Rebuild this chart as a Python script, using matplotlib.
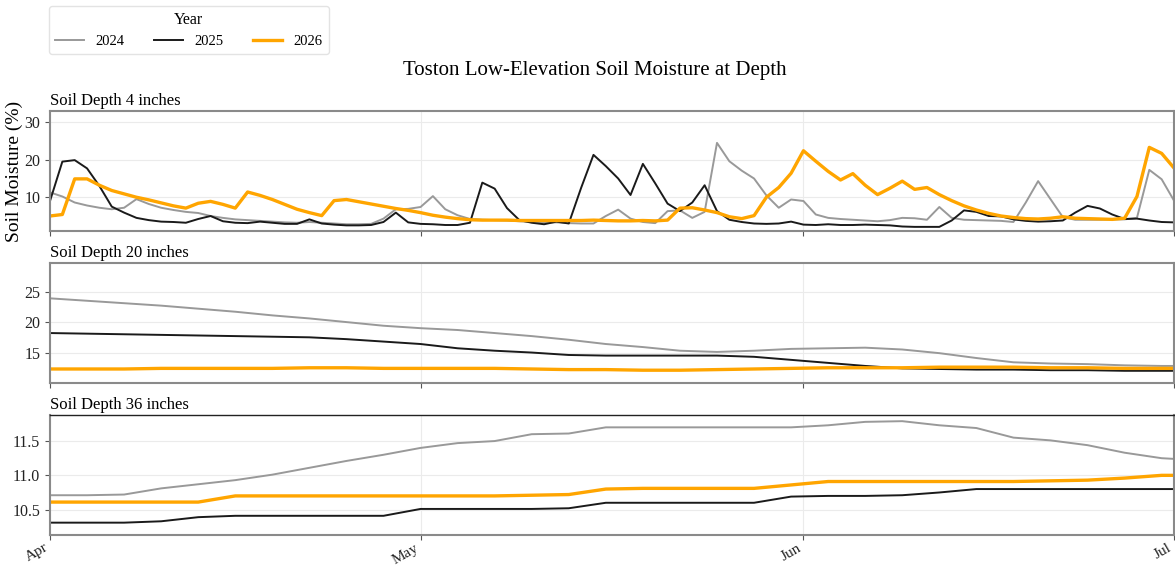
import pandas as pd
import matplotlib
matplotlib.use('Agg')
import matplotlib.pyplot as plt
import matplotlib.dates as mdates

# fuente tipo Times
plt.rcParams['font.family'] = ['Liberation Serif', 'DejaVu Serif']

# Fechas: diario para 4 pulgadas, cada 3 dias para las capas profundas
fechas_4in = pd.date_range('2026-04-01', '2026-07-01', freq='D')
dias_prof = list(range(0, 91, 3)) + [91]
fechas_prof = pd.Timestamp('2026-04-01') + pd.to_timedelta(dias_prof, unit='D')

anios = ['2024', '2025', '2026']
colores = ['#999999', '#1a1a1a', '#FFA500']
grosores = [1.4, 1.4, 2.4]

# Profundidad 4 pulgadas (diario, Apr 1 - Jul 1)
h4_2024 = [11.3, 10.2, 8.6, 7.8, 7.2, 6.8, 7.2, 9.5, 8.2, 7.2, 6.6, 6.1, 5.8, 5.0, 4.5, 4.1,
           3.9, 3.7, 3.5, 3.3, 3.2, 3.4, 3.2, 3.0, 2.8, 2.8, 2.9, 4.3, 6.8, 6.9, 7.4, 10.3,
           6.8, 5.2, 4.2, 4.0, 3.9, 3.8, 3.6, 3.4, 3.2, 3.3, 3.1, 3.0, 3.0, 5.0, 6.7, 4.3,
           3.4, 3.1, 6.3, 6.5, 4.5, 6.1, 24.5, 19.6, 17.1, 15.0, 10.5, 7.2, 9.4, 9.0, 5.4,
           4.5, 4.2, 4.0, 3.8, 3.6, 3.9, 4.5, 4.4, 4.0, 7.4, 4.5, 4.0, 3.9, 3.8, 3.7, 3.4,
           8.6, 14.3, 9.5, 4.7, 4.0, 4.0, 4.0, 4.1, 4.1, 4.5, 17.3, 14.8, 9.1]
h4_2025 = [9.0, 19.5, 19.9, 17.7, 13.0, 7.5, 5.9, 4.5, 3.9, 3.5, 3.4, 3.2, 4.2, 5.0, 3.6, 3.2,
           3.1, 3.5, 3.2, 2.9, 2.9, 4.1, 3.0, 2.7, 2.5, 2.5, 2.6, 3.4, 5.9, 3.3, 2.9, 2.8,
           2.6, 2.6, 3.2, 13.9, 12.3, 7.1, 3.9, 3.2, 2.8, 3.5, 3.0, 12.5, 21.3, 18.3, 15.0,
           10.6, 18.9, 13.7, 8.3, 6.3, 8.6, 13.2, 6.3, 4.0, 3.4, 3.0, 2.9, 3.0, 3.5, 2.7,
           2.6, 2.8, 2.6, 2.6, 2.7, 2.6, 2.5, 2.2, 2.1, 2.1, 2.1, 3.8, 6.5, 6.1, 5.0, 4.9,
           4.1, 3.7, 3.5, 3.6, 3.8, 5.9, 7.7, 7.0, 5.4, 4.2, 4.3, 3.8, 3.4, 3.3]
h4_2026 = [5.0, 5.4, 14.9, 14.9, 13.2, 11.8, 10.9, 10.0, 9.3, 8.5, 7.7, 7.1, 8.4, 8.9, 8.1,
           7.1, 11.4, 10.5, 9.4, 8.1, 6.8, 5.9, 5.1, 9.1, 9.4, 8.8, 8.2, 7.6, 7.0, 6.5, 5.9,
           5.2, 4.7, 4.3, 4.0, 3.9, 3.9, 3.9, 3.8, 3.8, 3.8, 3.8, 3.8, 3.8, 3.9, 3.8, 3.7,
           3.7, 3.8, 3.7, 3.9, 7.1, 7.2, 6.6, 5.9, 4.8, 4.3, 5.1, 10.0, 12.6, 16.4, 22.4,
           19.6, 16.9, 14.6, 16.3, 13.2, 10.7, 12.4, 14.3, 12.1, 12.6, 10.7, 9.1, 7.7, 6.6,
           5.7, 5.0, 4.6, 4.3, 4.2, 4.4, 4.8, 4.4, 4.3, 4.2, 4.1, 4.4, 10.2, 23.3, 21.7, 17.8]

# Profundidad 20 pulgadas (cada 3 dias)
h20_2024 = [23.9, 23.5, 23.1, 22.7, 22.2, 21.7, 21.1, 20.6, 20.0, 19.4, 19.0, 18.7, 18.2,
            17.7, 17.1, 16.4, 15.9, 15.3, 15.1, 15.3, 15.6, 15.7, 15.8, 15.5, 14.9, 14.1,
            13.4, 13.2, 13.1, 12.9, 12.8, 12.8]
h20_2025 = [18.2, 18.1, 18.0, 17.9, 17.8, 17.7, 17.6, 17.5, 17.2, 16.8, 16.4, 15.7, 15.3,
            15.0, 14.6, 14.5, 14.5, 14.5, 14.5, 14.3, 13.8, 13.3, 12.8, 12.4, 12.3, 12.2,
            12.2, 12.1, 12.1, 12.0, 12.0, 12.0]
h20_2026 = [12.3, 12.3, 12.3, 12.4, 12.4, 12.4, 12.4, 12.5, 12.5, 12.4, 12.4, 12.4, 12.4,
            12.3, 12.2, 12.2, 12.1, 12.1, 12.2, 12.3, 12.4, 12.5, 12.5, 12.5, 12.6, 12.6,
            12.6, 12.5, 12.5, 12.4, 12.4, 12.4]

# Profundidad 36 pulgadas (cada 3 dias)
h36_2024 = [10.71, 10.71, 10.72, 10.81, 10.87, 10.93, 11.01, 11.11, 11.21, 11.30, 11.40,
            11.47, 11.50, 11.60, 11.61, 11.70, 11.70, 11.70, 11.70, 11.70, 11.70, 11.73,
            11.78, 11.79, 11.73, 11.69, 11.55, 11.51, 11.44, 11.33, 11.25, 11.24]
h36_2025 = [10.31, 10.31, 10.31, 10.33, 10.39, 10.41, 10.41, 10.41, 10.41, 10.41, 10.51,
            10.51, 10.51, 10.51, 10.52, 10.60, 10.60, 10.60, 10.60, 10.60, 10.69, 10.70,
            10.70, 10.71, 10.75, 10.80, 10.80, 10.80, 10.80, 10.80, 10.80, 10.80]
h36_2026 = [10.61, 10.61, 10.61, 10.61, 10.61, 10.70, 10.70, 10.70, 10.70, 10.70, 10.70,
            10.70, 10.70, 10.71, 10.72, 10.80, 10.81, 10.81, 10.81, 10.81, 10.86, 10.91,
            10.91, 10.91, 10.91, 10.91, 10.91, 10.92, 10.93, 10.96, 11.00, 11.00]

paneles = [
    ('Soil Depth 4 inches', fechas_4in, [h4_2024, h4_2025, h4_2026], (1.0, 33.0), [10, 20, 30]),
    ('Soil Depth 20 inches', fechas_prof, [h20_2024, h20_2025, h20_2026], (10.0, 29.7), [15, 20, 25]),
    ('Soil Depth 36 inches', fechas_prof, [h36_2024, h36_2025, h36_2026], (10.13, 11.88), [10.5, 11.0, 11.5]),
]

W, H = 1175, 567
fig = plt.figure(figsize=(W / 100, H / 100), dpi=100)

# posiciones de los paneles en pixeles (arriba, abajo)
cajas = [(111, 231), (263, 383), (415, 535)]
izq, der = 50, 1174

ejes = []
for (titulo, fechas, series, lim, ticks), (top, bot) in zip(paneles, cajas):
    ax = fig.add_axes([izq / W, 1 - bot / H, (der - izq) / W, (bot - top) / H])
    for anio, datos, c, lw in zip(anios, series, colores, grosores):
        ax.plot(fechas, datos, color=c, lw=lw, label=anio)
    ax.set_ylim(*lim)
    ax.set_yticks(ticks)
    ax.set_xlim(pd.Timestamp('2026-04-01'), pd.Timestamp('2026-07-01'))
    ax.xaxis.set_major_locator(mdates.MonthLocator())
    ax.xaxis.set_major_formatter(mdates.DateFormatter('%b'))
    ax.grid(True, color='#ebebeb', lw=0.8)
    ax.set_axisbelow(True)
    ax.set_title(titulo, loc='left', fontsize=12, pad=4)
    for s in ax.spines.values():
        s.set_color('#8a8a8a')
        s.set_linewidth(1.5)
    ax.tick_params(axis='y', colors='#555555', labelcolor='#222222', labelsize=11.5,
                   length=3.5, width=0.8)
    ax.tick_params(axis='x', colors='#555555', labelcolor='#222222', labelsize=11,
                   length=3.5, width=0.8, pad=1)
    ejes.append(ax)

# el panel de 36 pulgadas tiene el borde superior oscuro
ejes[2].spines['top'].set_color('#222222')
ejes[2].spines['top'].set_linewidth(1.0)
ejes[2].yaxis.set_major_formatter(matplotlib.ticker.FormatStrFormatter('%.1f'))

for ax in ejes[:2]:
    ax.tick_params(axis='x', labelbottom=False)
for lab in ejes[2].get_xticklabels():
    lab.set_rotation(30)
    lab.set_ha('right')

# etiqueta del eje y centrada en el primer panel
fig.text(14 / W, 1 - 171 / H, 'Soil Moisture (%)', rotation=90,
         ha='center', va='center', fontsize=14)

fig.text(595 / W, 1 - 71 / H, 'Toston Low-Elevation Soil Moisture at Depth',
         ha='center', va='center', fontsize=15)

h, l = ejes[0].get_legend_handles_labels()
leg = fig.legend(h, l, title='Year', ncol=3, loc='upper left', borderaxespad=0,
                 bbox_to_anchor=(49 / W, 1 - 6 / H), fontsize=10.5, title_fontsize=11.5,
                 frameon=True, edgecolor='#dddddd')

fig.savefig('out.png', dpi=100)
